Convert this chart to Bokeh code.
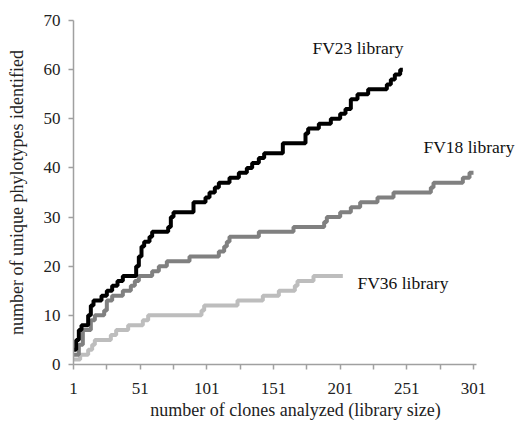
from bokeh.plotting import figure
from bokeh.models import FixedTicker, Label, Range1d
from bokeh.embed import file_html
from bokeh.resources import INLINE

# ---- data ----
fv23_x = [1, 3, 5, 7, 12, 14, 16, 22, 26, 30, 34, 38, 48, 50, 52, 54, 58, 60, 72, 74, 76,
          91, 100, 103, 107, 110, 118, 125, 131, 135, 140, 144, 158, 175, 177, 185, 194,
          201, 205, 209, 214, 222, 236, 239, 242, 246, 248]
fv23_y = [3, 5, 7, 8, 10, 12, 13, 14, 15, 16, 17, 18, 20, 22, 24, 25, 26, 27, 28, 30, 31,
          33, 34, 35, 36, 37, 38, 39, 40, 41, 42, 43, 45, 47, 48, 49, 50,
          51, 52, 54, 55, 56, 57, 58, 59, 60, 60]

fv18_x = [1, 5, 8, 14, 17, 24, 26, 30, 38, 44, 47, 50, 60, 65, 71, 88, 110, 114, 116, 118,
          140, 166, 189, 191, 201, 209, 216, 229, 241, 269, 271, 293, 298, 301]
fv18_y = [2, 4, 7, 9, 10, 11, 13, 14, 15, 16, 17, 18, 19, 20, 21, 22, 23, 24, 25, 26,
          27, 28, 29, 30, 31, 32, 33, 34, 35, 36, 37, 38, 39, 39]

fv36_x = [1, 6, 12, 15, 17, 29, 33, 42, 53, 57, 97, 99, 124, 143, 155, 167, 169, 181, 203]
fv36_y = [1, 2, 3, 4, 5, 6, 7, 8, 9, 10, 11, 12, 13, 14, 15, 16, 17, 18, 18]

x_ticks = [1, 26, 51, 76, 101, 126, 151, 176, 201, 226, 251, 276, 301]
x_labeled = [1, 51, 101, 151, 201, 251, 301]
y_ticks = [0, 10, 20, 30, 40, 50, 60, 70]

series_labels = ["FV23 library", "FV18 library", "FV36 library"]
x_title = "number of clones analyzed (library size)"
y_title = "number of unique phylotypes identified"

FONT = "Liberation Serif"

p = figure(width=517, height=423, x_range=Range1d(1, 334), y_range=Range1d(0, 70),
           output_backend="svg", toolbar_location=None,
           min_border_left=73, min_border_right=0, min_border_top=20, min_border_bottom=59)

p.outline_line_color = None
p.xgrid.visible = False
p.ygrid.visible = False
p.background_fill_color = "white"
p.border_fill_color = "white"

# lines (lightest first)
p.step(fv36_x, fv36_y, mode="after", line_color="#bdbdbd", line_width=4)
p.step(fv18_x, fv18_y, mode="after", line_color="#808080", line_width=4)
p.step(fv23_x, fv23_y, mode="after", line_color="#000000", line_width=4)

p.axis.axis_line_color = "#a0a0a0"
p.axis.axis_line_width = 1.5
p.axis.major_tick_line_color = "#a0a0a0"
p.axis.major_tick_line_width = 1.5
p.axis.major_tick_in = 0
p.axis.major_tick_out = 5
p.axis.minor_tick_line_color = None
p.axis.major_label_text_font = FONT
p.axis.major_label_text_font_size = "17px"
p.axis.major_label_text_color = "#222222"
p.axis.axis_label_text_font = FONT
p.axis.axis_label_text_font_size = "18px"
p.axis.axis_label_text_font_style = "normal"
p.axis.axis_label_text_color = "#222222"

p.xaxis.bounds = (1, 303.25)
p.xaxis.ticker = FixedTicker(ticks=x_ticks)
p.xaxis.major_label_overrides = {t: ("" if t not in x_labeled else str(t)) for t in x_ticks}
p.xaxis.major_label_standoff = 13
p.xaxis.axis_label = x_title
p.xaxis.axis_label_standoff = 3

p.yaxis.ticker = FixedTicker(ticks=y_ticks)
p.yaxis.major_label_standoff = 8
p.yaxis.axis_label = y_title
p.yaxis.axis_label_standoff = 14

# series labels
for (lx, ly), t in zip([(180.25, 64.5), (263.5, 44.3), (214, 16.5)], series_labels):
    p.add_layout(Label(x=lx, y=ly, text=t, text_font=FONT, text_font_size="17.5px",
                       text_align="left", text_baseline="middle", text_color="#111111"))

open("out.html", "w").write(file_html(p, INLINE))
